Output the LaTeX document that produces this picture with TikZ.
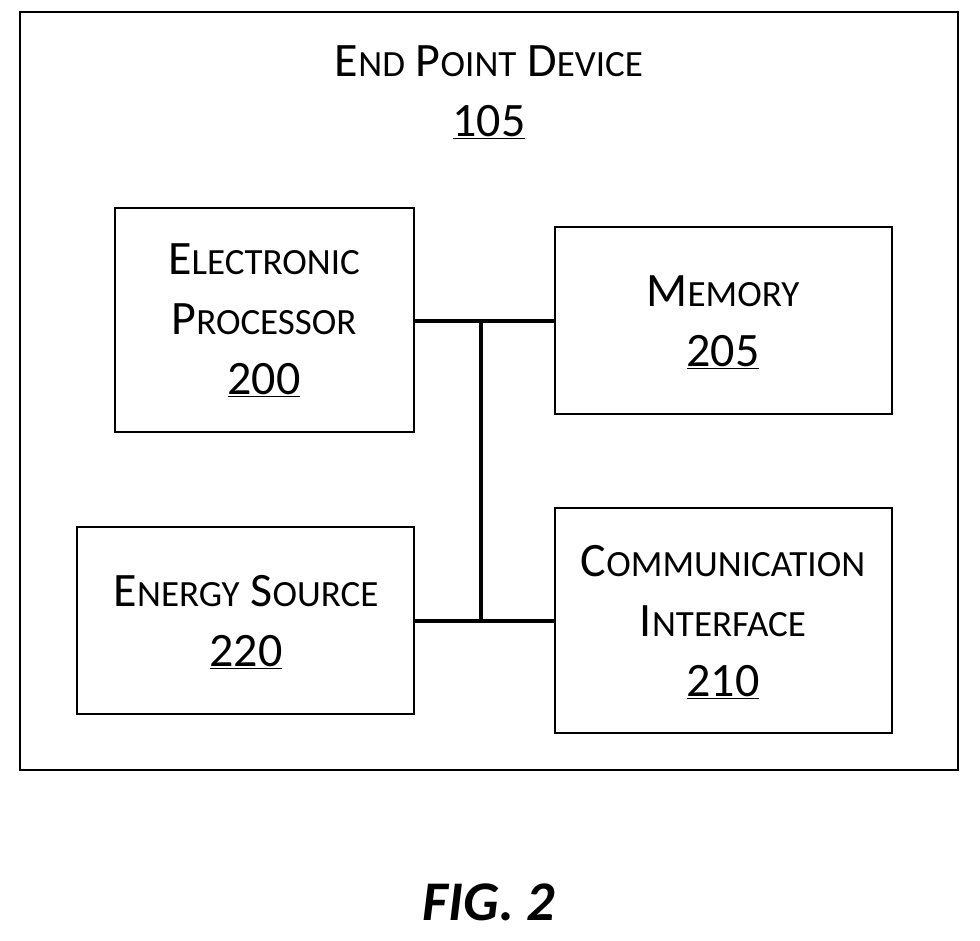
\documentclass[tikz,border=0pt]{standalone}
\usepackage{fontspec}
\setmainfont{Carlito}
\newcommand\BigL[1]{{\fontsize{48}{60}\selectfont #1}}
\newcommand\Sm[1]{{\fontsize{37}{60}\selectfont #1}}
\newcommand\Num[1]{{\fontsize{48}{60}\selectfont\underline{#1}}}
\begin{document}
\begin{tikzpicture}[x=1pt,y=-1pt,
 box/.style={draw,line width=1.8pt},
 lbl/.style={align=center,font=\fontsize{48}{60}\selectfont},
 bus/.style={line width=4.5pt}]
\useasboundingbox (0,0) rectangle (980,941);
\draw[box] (20,12) rectangle (958,770);
\node[lbl] (t) at (489,92) {\BigL{E}\Sm{ND} \BigL{P}\Sm{OINT} \BigL{D}\Sm{EVICE}\\\Num{105}};
\draw[box] (115,208) rectangle (414,432); \coordinate (epR) at (414,321);
\node[lbl] (ep) at (264,320) {\BigL{E}\Sm{LECTRONIC}\\\BigL{P}\Sm{ROCESSOR}\\\Num{200}};
\draw[box] (555,227) rectangle (892,414); \coordinate (memL) at (555,321);
\node[lbl] (mem) at (723,322) {\BigL{M}\Sm{EMORY}\\\Num{205}};
\draw[box] (77,527) rectangle (414,714); \coordinate (esR) at (414,621);
\node[lbl] (es) at (246,622) {\BigL{E}\Sm{NERGY} \BigL{S}\Sm{OURCE}\\\Num{220}};
\draw[box] (555,508) rectangle (892,733); \coordinate (ciL) at (555,621);
\node[lbl] (ci) at (723,622) {\BigL{C}\Sm{OMMUNICATION}\\\BigL{I}\Sm{NTERFACE}\\\Num{210}};
\coordinate (bt) at (481,321); \coordinate (bb) at (481,621);
\draw[bus] (epR) -- (memL);
\draw[bus] (esR) -- (ciL);
\draw[bus] (bt) -- (bb);
\node (fig) at (489,902) {\fontsize{56}{60}\selectfont\bfseries\itshape FIG. 2};
\end{tikzpicture}
\end{document}
